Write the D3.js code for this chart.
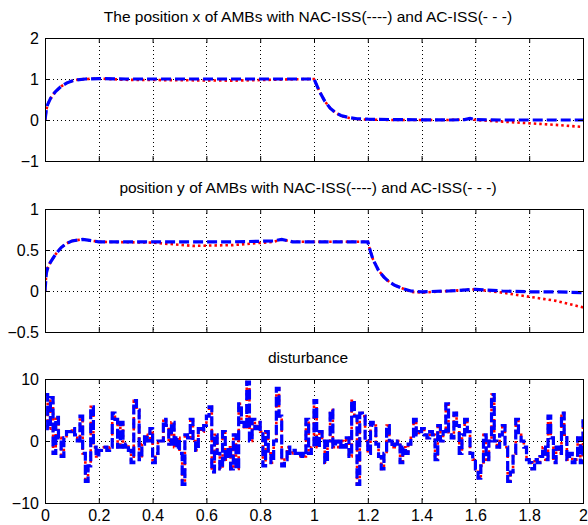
<!DOCTYPE html>
<html>
<head>
<meta charset="utf-8">
<script src="https://cdn.jsdelivr.net/npm/d3@7"></script>
<style>
  body { margin: 0; background: #fff; }
  svg { font-family: "Liberation Sans", Arial, sans-serif; }
  .grid line { stroke: #000; stroke-width: 1; stroke-dasharray: 1,3; }
</style>
</head>
<body>
<div id="chart"></div>
<script>
// x axis ticks shared by all three panels
var xTicks = [0, 0.2, 0.4, 0.6, 0.8, 1, 1.2, 1.4, 1.6, 1.8, 2];

// panel 1: position x
var px_t   = [0, 0.005, 0.01, 0.02, 0.03, 0.04, 0.06, 0.08, 0.1, 0.12, 0.15, 0.2, 0.3, 0.5, 0.7, 0.9, 1.0, 1.01, 1.02, 1.04, 1.06, 1.08, 1.1, 1.13, 1.16, 1.2, 1.3, 1.5, 1.56, 1.58, 1.6, 1.7, 1.8, 1.9, 2.0];
var px_ac  = [0, 0.25, 0.38, 0.52, 0.62, 0.7, 0.82, 0.9, 0.95, 0.98, 1.0, 1.01, 1.0, 1.0, 1.0, 1.0, 1.0, 0.85, 0.7, 0.46, 0.29, 0.18, 0.11, 0.06, 0.03, 0.02, 0.01, 0.0, 0.01, 0.04, 0.01, 0.0, 0.0, 0.0, 0.0];
var px_nac = [0, 0.25, 0.38, 0.52, 0.62, 0.7, 0.82, 0.9, 0.95, 0.98, 1.0, 1.01, 0.98, 0.97, 0.96, 0.99, 1.0, 0.85, 0.7, 0.46, 0.29, 0.18, 0.1, 0.05, 0.02, 0.01, 0.0, 0.0, 0.01, 0.04, 0.0, -0.04, -0.08, -0.12, -0.17];

// panel 2: position y
var py_t   = [0, 0.005, 0.01, 0.02, 0.04, 0.06, 0.08, 0.1, 0.12, 0.14, 0.16, 0.2, 0.4, 0.55, 0.7, 0.85, 0.88, 0.92, 1.0, 1.2, 1.21, 1.22, 1.24, 1.26, 1.28, 1.3, 1.33, 1.36, 1.4, 1.5, 1.6, 1.7, 1.8, 1.9, 2.0];
var py_ac  = [0, 0.22, 0.28, 0.35, 0.45, 0.53, 0.58, 0.61, 0.62, 0.63, 0.62, 0.6, 0.6, 0.6, 0.6, 0.61, 0.63, 0.6, 0.6, 0.6, 0.48, 0.38, 0.25, 0.17, 0.11, 0.07, 0.03, 0.0, -0.01, 0.0, 0.02, 0.0, -0.01, -0.01, -0.02];
var py_nac = [0, 0.22, 0.28, 0.35, 0.45, 0.53, 0.58, 0.61, 0.62, 0.63, 0.62, 0.6, 0.59, 0.55, 0.56, 0.6, 0.63, 0.6, 0.6, 0.6, 0.48, 0.38, 0.25, 0.17, 0.11, 0.07, 0.03, -0.01, -0.02, 0.0, 0.02, -0.02, -0.07, -0.12, -0.2];

// panel 3: disturbance, sampled every 0.01 s (held between samples)
var dist = [
  7.5, 2, 7, -2, 3.8, 0.5, -2.5, 0.5, 1.5, 1.5,
  2, 1, 0, 4, -2, -6.5, -4, 5.5, -1, -2.5,
  -1.5, -1, -1, -1.5, -1, 4.5, 3.5, -1, 3, -1,
  -0.5, -1.5, -3.5, 6.5, 5, -3, -0.5, 1, 0, 2,
  -3.5, -2, 0, 0, 3.5, 2.5, -0.5, 3, -1, 0.5,
  -2, -7, 1, 0.5, 3.5, 0, -1.5, 2, 1.5, 2.5,
  4, 5.5, -5, 1, -2, -4.5, 1.5, -3, -1, -4.5,
  1, -4.5, 6, 3, 2, 9.5, 0, 3.5, 2, 3,
  1.5, -4, 1.5, -2, -3.5, 0, 8.5, 4, -4, -3,
  -1, -2, -1.5, -2, -2.5, -2, -2.5, 3.5, -2, -1,
  6.5, -1, 1.5, 0, -3.5, 0, 5, -1, 0, -1,
  0, -1, 0.5, -2.5, 6.5, 4, -7, 4.5, 4, 0,
  -2, 3, 2.5, -0.5, -2.5, -4.5, -2, 2.5, 0, -1,
  -0.5, 0, -3.5, -1, -2, -0.5, 0.5, 3.5, 1, 1.5,
  2, 1, 0.5, 1.5, 1, -3, 2.5, 0, 1.5, 6,
  1, 0.5, 4.5, 2.5, -2, 1, 3.5, 1.5, -2, -3,
  -4.5, -6, -4, 1, -3, 0, 7.5, 0, -1, 1,
  2.5, -1, -6.5, -5, -2, 3.5, 1, 0, -1, -3,
  -3.5, -4.5, -3, -3.5, -2.5, -1, -3, 4, 0.5, -3.5,
  -1, -2, 4.5, 1, -3, -2, -3.5, -3, 0.5, -3.5,
  3.5
];
var dist_t = dist.map(function(d, i){ return i * 0.01; });

var panels = [
  { title: "The position x of AMBs with NAC-ISS(----) and AC-ISS(- - -)",
    top: 38, bottom: 161, domain: [-1, 2], yTicks: [-1, 0, 1, 2],
    t: px_t, nac: px_nac, ac: px_ac, step: false, xLabels: false },
  { title: "position y of AMBs with NAC-ISS(----) and AC-ISS(- - -)",
    top: 209, bottom: 332, domain: [-0.5, 1], yTicks: [-0.5, 0, 0.5, 1],
    t: py_t, nac: py_nac, ac: py_ac, step: false, xLabels: false },
  { title: "disturbance",
    top: 379, bottom: 503, domain: [-10, 10], yTicks: [-10, 0, 10],
    t: dist_t, nac: dist, ac: dist, step: true, xLabels: true }
];

var W = 588, H = 525, left = 45, right = 583;
var fmt = d3.format('~g');

var svg = d3.select('#chart').append('svg')
  .attr('width', W)
  .attr('height', H);

var x = d3.scaleLinear().domain([0, 2]).range([left, right]);

panels.forEach(function(p){
  var y = d3.scaleLinear().domain(p.domain).range([p.bottom, p.top]);
  var g = svg.append('g');

  // dotted grid at interior ticks
  var grid = g.append('g').attr('class', 'grid');
  grid.selectAll('.gx')
    .data(xTicks.filter(function(d){ return d > 0 && d < 2; }))
    .enter().append('line')
    .attr('x1', function(d){ return Math.round(x(d)) + 0.5; })
    .attr('x2', function(d){ return Math.round(x(d)) + 0.5; })
    .attr('y1', p.top).attr('y2', p.bottom);
  grid.selectAll('.gy')
    .data(p.yTicks.filter(function(d){ return d > p.domain[0] && d < p.domain[1]; }))
    .enter().append('line')
    .attr('y1', function(d){ return Math.round(y(d)) + 0.5; })
    .attr('y2', function(d){ return Math.round(y(d)) + 0.5; })
    .attr('x1', left).attr('x2', right);

  // curves
  var line = d3.line()
    .curve(p.step ? d3.curveStepAfter : d3.curveLinear)
    .x(function(d){ return x(d[0]); })
    .y(function(d){ return y(d[1]); });

  var clip = 'clip' + p.top;
  g.append('clipPath').attr('id', clip)
    .append('rect')
    .attr('x', left).attr('y', p.top - 2)
    .attr('width', right - left).attr('height', p.bottom - p.top + 4);

  g.append('path')
    .datum(d3.zip(p.t, p.nac))
    .attr('clip-path', 'url(#' + clip + ')')
    .attr('d', line)
    .attr('fill', 'none')
    .attr('stroke', '#ff0000')
    .attr('stroke-width', 2.6)
    .attr('stroke-dasharray', '2.5,3');

  g.append('path')
    .datum(d3.zip(p.t, p.ac))
    .attr('clip-path', 'url(#' + clip + ')')
    .attr('d', line)
    .attr('fill', 'none')
    .attr('stroke', '#0000ff')
    .attr('stroke-width', 3.2)
    .attr('stroke-dasharray', '10,4');

  // axes with inward ticks on all four sides
  var axL = d3.axisLeft(y).tickValues(p.yTicks).tickSizeInner(-5).tickSizeOuter(0).tickPadding(6).tickFormat(fmt);
  var axR = d3.axisRight(y).tickValues(p.yTicks).tickSizeInner(-5).tickSizeOuter(0).tickFormat('');
  var axT = d3.axisTop(x).tickValues(xTicks).tickSizeInner(-5).tickSizeOuter(0).tickFormat('');
  var axB = d3.axisBottom(x).tickValues(xTicks).tickSizeInner(-5).tickSizeOuter(0).tickPadding(7).tickFormat(fmt);
  if (!p.xLabels) axB.tickFormat('');

  function style(a){
    a.select('.domain').remove();
    a.selectAll('line').attr('stroke', '#000');
    a.selectAll('text').attr('fill', '#000').style('font-size', '16px');
  }
  g.append('g').attr('transform', 'translate(' + left + ',0)').call(axL).call(style);
  g.append('g').attr('transform', 'translate(' + right + ',0)').call(axR).call(style);
  g.append('g').attr('transform', 'translate(0,' + p.top + ')').call(axT).call(style);
  g.append('g').attr('transform', 'translate(0,' + p.bottom + ')').call(axB).call(style);

  g.append('rect')
    .attr('x', left + 0.5).attr('y', p.top + 0.5)
    .attr('width', right - left).attr('height', p.bottom - p.top)
    .attr('fill', 'none')
    .attr('stroke', '#000')
    .attr('stroke-width', 1);

  g.append('text')
    .attr('x', (left + right) / 2 - 6)
    .attr('y', p.top - 16)
    .attr('text-anchor', 'middle')
    .style('font-size', '15.5px')
    .text(p.title);
});
</script>
</body>
</html>
